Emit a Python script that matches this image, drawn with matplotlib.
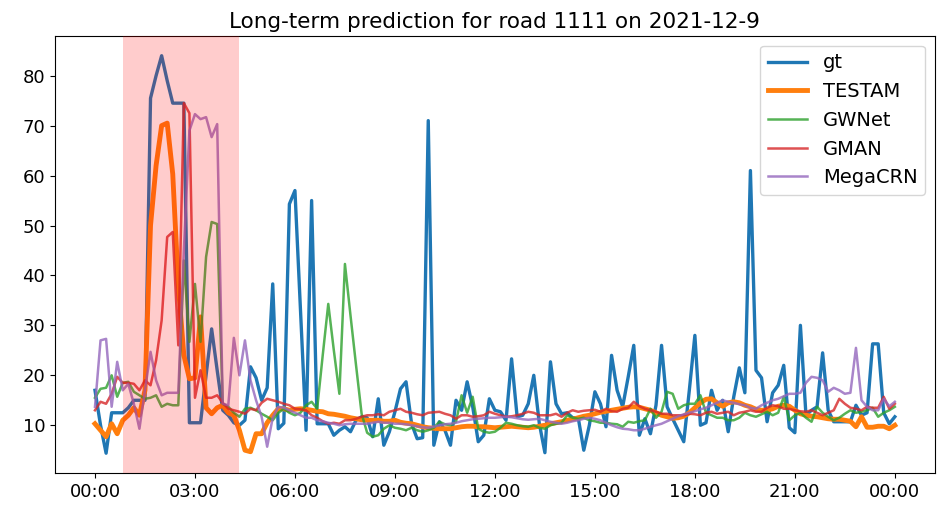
import pandas as pd
import matplotlib
matplotlib.use("Agg")
import matplotlib.pyplot as plt
import matplotlib.dates as mdates

# 10-minute samples for road 1111, 2021-12-9 00:00 -> 2021-12-10 00:00
times = pd.date_range("2021-12-09 00:00", periods=145, freq="10min")

gt = [17, 10, 4.4, 12.5, 12.5, 12.5, 13.5, 15, 15, 15, 75.5, 80,
      84, 79, 74.5, 74.5, 74.5, 10.5, 10.5, 10.5, 20, 29.3, 21, 13,
      12, 10.5, 10, 11, 21.7, 19.5, 15, 17.5, 38.3, 9.3, 10.4, 54.3,
      57, 33, 9, 55, 10.3, 10.3, 10.3, 8, 9, 9.7, 8.7, 11,
      11.7, 11.5, 7.7, 15.3, 6, 8.7, 12.7, 17.3, 18.7, 10.3, 7.3, 7.5,
      71, 6, 10.7, 9, 6, 15, 13, 18.7, 13.7, 6.7, 8, 15.3,
      13, 12.7, 11, 23.3, 11.7, 12, 14.3, 20, 10.3, 4.5, 22.7, 14.3,
      12.3, 12.5, 11.5, 11.5, 5, 10, 16.7, 14.3, 9.7, 24, 17, 13.7,
      19.7, 26, 8, 11.3, 8.3, 14, 26, 13.7, 11.3, 9, 6.7, 17,
      28, 10, 10.5, 17, 13, 15, 8.7, 15.7, 21.5, 16.5, 61, 21,
      19.5, 10.7, 16.5, 18, 22, 9.5, 8.5, 30, 12, 13, 13.7, 24.5,
      13, 10.7, 10.7, 10.7, 10.7, 14, 12, 12.5, 26.3, 26.3, 12.5, 10.3,
      11.7]

testam = [10.3, 9, 7.7, 10.3, 8.3, 11, 12, 13.5, 12, 17, 50, 62,
          70, 70.5, 60.3, 38, 24, 19.3, 19.5, 31.7, 13.5, 12.3, 13.5, 14,
          12.5, 12, 9, 5, 4.7, 8.3, 8.3, 10.5, 12, 13.3, 13.3, 13,
          13.2, 13.3, 13.2, 13, 12.8, 12.7, 12.3, 12.2, 12, 11.8, 11.5, 11.3,
          11.1, 11, 11, 11, 10.8, 10.8, 11, 10.6, 10.4, 10.3, 10, 9.7,
          9.5, 9.4, 9.3, 9.3, 9.3, 9.5, 9.7, 9.8, 9.8, 9.7, 9.7, 9.6,
          9.5, 9.6, 9.7, 9.8, 9.7, 9.6, 9.5, 9.6, 9.8, 10, 10.3, 10.5,
          10.7, 11, 11.2, 11.5, 11.8, 12, 12.3, 12.6, 12.8, 13, 13.2, 13.4,
          13.6, 13.7, 13.6, 13.3, 13, 12.5, 12, 11.7, 11.4, 11.5, 11.8, 12.5,
          13.5, 14.5, 15.2, 15.3, 14.5, 13.8, 14.5, 14.7, 14.5, 14, 13.7, 13.2,
          13, 13, 13.3, 13.8, 14, 13.8, 13, 12.3, 12, 11.8, 11.7, 11.5,
          11.3, 11.2, 11.2, 11, 10.8, 9.7, 11.7, 9.6, 9.6, 9.8, 9.8, 9.3,
          10]

gwnet = [15.5, 17.3, 17.5, 20, 15.7, 18.5, 18.7, 16.7, 16, 15.3, 15.5, 16,
         13.7, 14.3, 14, 14, 43, 26.7, 38.3, 26.7, 43.7, 50.7, 50.3, 14.3,
         13.7, 12.5, 11.7, 13.3, 13.5, 13, 12.3, 11.7, 11, 12.5, 13.3, 12.5,
         12, 12.5, 14, 14.7, 13.3, 24, 34.3, 25, 16.3, 42.3, 32, 22,
         12.3, 8.5, 7.7, 8, 9.3, 10, 9.5, 9.3, 9, 9.5, 9, 8.7,
         9, 9.5, 10.7, 10.2, 10, 10.7, 16, 12.5, 15.7, 9.3, 8.7, 8.5,
         8.7, 9.5, 10.5, 10.3, 10, 9.8, 9.7, 10, 9.5, 9.3, 10, 10.3,
         10.5, 12, 11.5, 11.3, 11.5, 11, 10.8, 10.5, 10.5, 10.3, 10.2, 9.7,
         10.7, 10.5, 10.8, 11, 13.3, 11.5, 12.7, 16.7, 16.3, 13.3, 14, 14.3,
         14.3, 16, 12.5, 12, 11.5, 11.5, 11, 11, 11.5, 12.5, 12, 11.7,
         12.2, 12.7, 12, 12.5, 15.7, 11, 12, 12.5, 11.5, 10.7, 13.7, 12.5,
         11.7, 11, 11.5, 12.3, 13, 12.5, 12.7, 13, 13.5, 11.7, 12.5, 13,
         13.7]

gman = [13, 14.7, 14.3, 16.3, 19.7, 18.5, 18.5, 18.3, 17, 19, 18, 23,
        31, 47.7, 48.7, 26, 74.5, 72.5, 15.5, 21, 15.5, 15.5, 16, 14.5,
        13.3, 13, 12.7, 12.3, 13.3, 13, 14.5, 15.3, 15, 14.7, 14.3, 14,
        13.3, 13.2, 13, 12, 11.5, 10.8, 10.3, 10.5, 10.3, 11, 11, 11.3,
        11.7, 12, 12, 12.2, 12, 12.7, 13, 13.3, 12.7, 12.5, 12.2, 12,
        12.5, 12.6, 12.7, 12.3, 12, 11.3, 12, 12, 11.7, 11.8, 12, 12.7,
        12.3, 12, 11.7, 11.8, 12, 12.3, 12.7, 12.5, 12, 12, 12, 12.3,
        11.7, 12.5, 13, 12.7, 12.9, 13, 13.1, 12.7, 13.3, 12.8, 12.7, 13.3,
        13.5, 14.7, 13.8, 13.3, 13, 12.7, 12.3, 12.3, 12, 12, 12, 12.3,
        12.2, 12, 12.5, 12.7, 12.3, 12.5, 12.7, 12, 12.5, 12.7, 13, 12.7,
        12.7, 13.5, 14, 13.8, 13.3, 13.3, 13, 12.8, 12.7, 13, 12.5, 12,
        12.5, 13, 15.3, 14.3, 13.5, 13.3, 13, 13.7, 13.5, 13.5, 15.7, 13.3,
        14.3]

megacrn = [13.7, 27, 27.3, 13.7, 22.7, 17, 18.3, 14.3, 9.3, 17, 24.7, 19,
           16, 16.5, 16.5, 16.5, 45, 69, 72.3, 71.3, 71.7, 67.7, 70.3, 14.3,
           14, 27.5, 20, 27, 19, 15, 11.7, 5.7, 11.5, 13.7, 13.5, 13,
           12.5, 12, 11.5, 11.5, 11, 10.8, 10.5, 10.3, 10, 10.2, 10.3, 10.3,
           10.3, 10.3, 10.5, 10.7, 10.5, 10.5, 10.3, 10.3, 10.2, 10, 9.8, 9.6,
           9.5, 9.7, 10, 10.2, 10.3, 10.5, 10.8, 11, 11.2, 11.3, 11.4, 11.5,
           11.5, 11.6, 11.7, 11.6, 11.4, 11.2, 11.1, 11.2, 11.3, 11, 10.7, 10.5,
           10.3, 10.5, 10.8, 11, 11.3, 11.5, 11.3, 11, 10.5, 10, 9.6, 9.3,
           9.2, 9, 9, 9.3, 9.7, 10, 10.3, 10.8, 11.3, 11.8, 12.2, 12.5,
           12.8, 13.2, 13.5, 14, 14.5, 15, 14.7, 14.5, 14.2, 14, 13.5, 13.3,
           14, 14.5, 15, 15.3, 15.8, 16.3, 16.3, 16.5, 18.5, 19.7, 19.5, 19,
           16.7, 17.5, 17, 16.3, 16.5, 25.5, 15, 13.7, 13, 13, 15.3, 13.8,
           14.7]

span_start = pd.Timestamp("2021-12-09 00:50")
span_end = pd.Timestamp("2021-12-09 04:20")

plt.rcParams["font.size"] = 13

fig = plt.figure(figsize=(9.4, 5.12), dpi=100)
ax = fig.add_axes([0.0585, 0.076, 0.936, 0.854])

ax.plot(times, gt, color="C0", lw=2.4, label="gt")
ax.plot(times, testam, color="C1", lw=3.5, label="TESTAM")
ax.plot(times, gwnet, color="C2", lw=1.8, alpha=0.8, label="GWNet")
ax.plot(times, gman, color="C3", lw=1.8, alpha=0.8, label="GMAN")
ax.plot(times, megacrn, color="C4", lw=1.8, alpha=0.8, label="MegaCRN")

ax.axvspan(span_start, span_end, color="red", alpha=0.2, lw=0, zorder=3)

ax.xaxis.set_major_locator(mdates.HourLocator(byhour=range(0, 24, 3)))
ax.xaxis.set_major_formatter(mdates.DateFormatter("%H:%M"))
ax.set_title("Long-term prediction for road 1111 on 2021-12-9", fontsize=15.5)
ax.legend(loc="upper right", fontsize=14)

plt.savefig("out.png")
